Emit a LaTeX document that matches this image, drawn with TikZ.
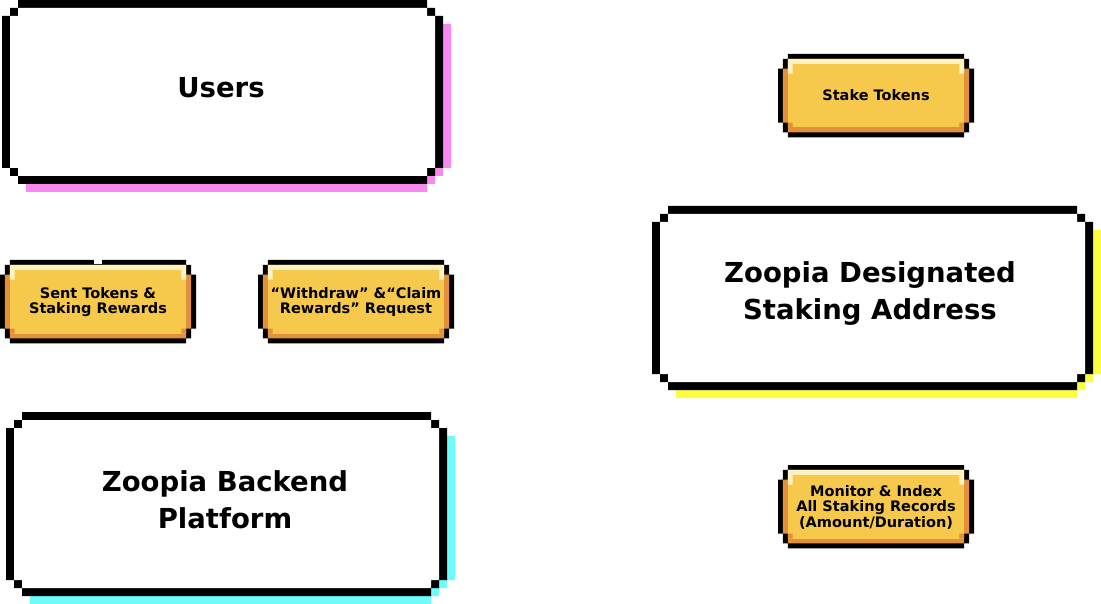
\documentclass[tikz,border=0pt]{standalone}
\usepackage{fontspec}
\setmainfont{DejaVu Sans}
\definecolor{shpink}{HTML}{FA88F1}
\definecolor{shyellow}{HTML}{FEFB44}
\definecolor{shcyan}{HTML}{6EFCFB}
\definecolor{chipfill}{HTML}{F6C84B}
\definecolor{chiplite}{HTML}{FEF2C2}
\definecolor{chipdark}{HTML}{E2903A}
\tikzset{
    bigtext/.style={font=\bfseries\fontsize{27.5}{37}\selectfont,align=center},
    chiptext/.style={font=\bfseries\fontsize{14.5}{15.5}\selectfont,align=center,inner sep=0pt}
}
\newcommand{\bigbox}[3]{
    \begin{scope}[shift={(#1,#2)}]
        \fill[#3] (24,24) -- (449,24) -- (449,168) -- (441,168) -- (441,176) -- (433,176) -- (433,184) -- (425,184) -- (425,192) -- (24,192) -- cycle;
        \fill (0,16) -- (8,16) -- (8,8) -- (16,8) -- (16,0) -- (425,0) -- (425,8) -- (433,8) -- (433,16) -- (441,16) -- (441,168) -- (433,168) -- (433,176) -- (425,176) -- (425,184) -- (16,184) -- (16,176) -- (8,176) -- (8,168) -- (0,168) -- cycle;
        \fill[white] (8,16) -- (16,16) -- (16,8) -- (425,8) -- (425,16) -- (433,16) -- (433,168) -- (425,168) -- (425,176) -- (16,176) -- (16,168) -- (8,168) -- cycle;
    \end{scope}
}
\newcommand{\chip}[2]{
    \begin{scope}[shift={(#1,#2)},x=4.9pt,y=-4.9pt]
        \fill (0,3) -- (1,3) -- (1,1) -- (2,1) -- (2,0) -- (38,0) -- (38,1) -- (39,1) -- (39,3) -- (40,3) -- (40,14) -- (39,14) -- (39,16) -- (38,16) -- (38,17) -- (2,17) -- (2,16) -- (1,16) -- (1,14) -- (0,14) -- cycle;
        \fill[chipdark] (1,3) -- (2,3) -- (2,1) -- (38,1) -- (38,3) -- (39,3) -- (39,14) -- (38,14) -- (38,16) -- (2,16) -- (2,14) -- (1,14) -- cycle;
        \fill[chipfill] (2,2) rectangle (38,15);
        \fill[chiplite] (2,1) rectangle (38,2) (2,2) rectangle (3,4) (37,2) rectangle (38,4);
        \fill[chipdark] (2,14) rectangle (3,15) (37,14) rectangle (38,15);
    \end{scope}
}

\begin{document}
\begin{tikzpicture}[x=1pt,y=-1pt]
    \useasboundingbox (0,0) rectangle (1101,604);
    \bigbox{2}{0}{shpink}
    \bigbox{652}{206}{shyellow}
    \bigbox{6}{412}{shcyan}
    \chip{0}{260}
    \chip{258}{260}
    \chip{778}{54}
    \chip{778}{465}
    \fill[white] (94,259.5) rectangle (102,264.5);
    \node[bigtext] (users) at (221,88) {Users};
    \node[bigtext] (stakeaddr) at (870,294) {Zoopia Designated\\Staking Address};
    \node[bigtext] (backend) at (225,500) {Zoopia Backend\\Platform};
    \node[chiptext] (senttokens) at (98,302) {Sent Tokens \&\\Staking Rewards};
    \node[chiptext] (withdrawreq) at (356,302) {“Withdraw” \&“Claim\\Rewards” Request};
    \node[chiptext] (staketokens) at (876,95) {Stake Tokens};
    \node[chiptext] (monitor) at (876,507) {Monitor \& Index\\All Staking Records\\(Amount/Duration)};
\end{tikzpicture}
\end{document}
